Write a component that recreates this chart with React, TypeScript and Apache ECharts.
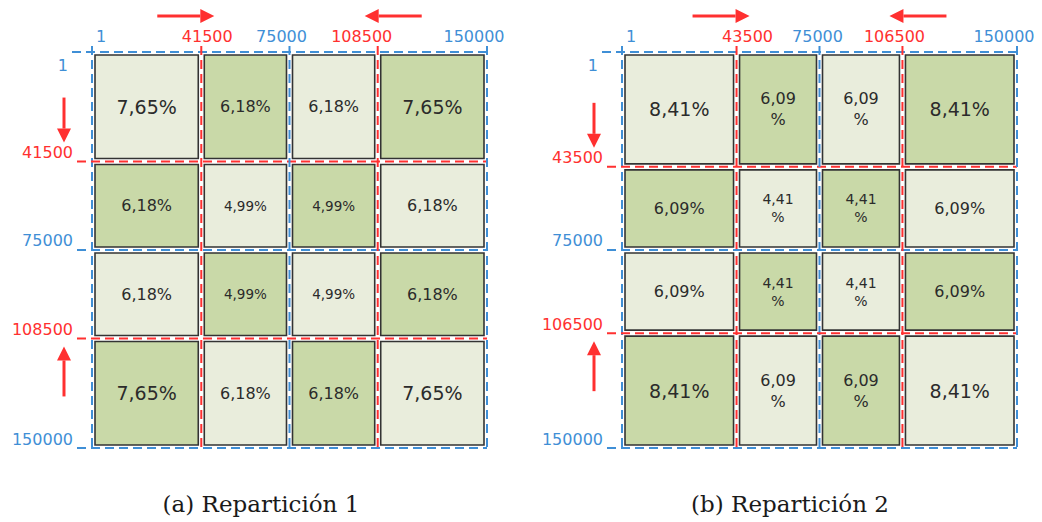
import React, { useEffect, useRef } from "react";
import * as echarts from "echarts";

// ---------- data ----------
const boundsA = [1, 41500, 75000, 108500, 150000];
const boundsB = [1, 43500, 75000, 106500, 150000];

const cellsA = [
  ["7,65%", "6,18%", "6,18%", "7,65%"],
  ["6,18%", "4,99%", "4,99%", "6,18%"],
  ["6,18%", "4,99%", "4,99%", "6,18%"],
  ["7,65%", "6,18%", "6,18%", "7,65%"],
];
const cellsB = [
  ["8,41%", "6,09\n%", "6,09\n%", "8,41%"],
  ["6,09%", "4,41\n%", "4,41\n%", "6,09%"],
  ["6,09%", "4,41\n%", "4,41\n%", "6,09%"],
  ["8,41%", "6,09\n%", "6,09\n%", "8,41%"],
];
const captions = ["(a) Repartición 1", "(b) Repartición 2"];

// ---------- style ----------
const BLUE = "#3f8fd6";
const RED = "#ff3030";
const LIGHT = "#e9eddc";
const GREEN = "#c9d9a8";
const BORDER = "#333333";
const TEXT = "#2b2b2b";
const SANS = "DejaVu Sans, Verdana, sans-serif";
const panelStyle = [
  { fonts: [19, 16, 13.5], topDx: [9, 6, -8, -16, -13], gridLeft: 92, caption: 261 },
  { fonts: [19, 16, 14], topDx: [9, 11, -2, -8, -13], gridLeft: 622, caption: 790 },
];
const panels = [
  { bounds: boundsA, cells: cellsA },
  { bounds: boundsB, cells: cellsB },
];

function cellData(bounds: number[]) {
  const out: number[][] = [];
  for (let i = 0; i < 4; i++)
    for (let j = 0; j < 4; j++)
      out.push([bounds[j], bounds[j + 1], bounds[i], bounds[i + 1], i, j]);
  return out;
}

function lineData(bounds: number[]) {
  const out: number[][] = [];
  bounds.forEach((b, k) => {
    out.push([b, 0, k]);
    out.push([b, 1, k]);
  });
  return out;
}

function cellRenderer(p: number) {
  return (_params: any, api: any) => {
    const x0 = api.value(0), x1 = api.value(1), y0 = api.value(2), y1 = api.value(3);
    const i = api.value(4), j = api.value(5);
    const a = api.coord([x0, y0]);
    const b = api.coord([x1, y1]);
    const inset = 3;
    const corner = (i === 0 || i === 3) && (j === 0 || j === 3);
    const inner = (i === 1 || i === 2) && (j === 1 || j === 2);
    const fs = panelStyle[p].fonts[corner ? 0 : inner ? 2 : 1];
    const cx = (a[0] + b[0]) / 2;
    const cy = (a[1] + b[1]) / 2;
    return {
      type: "group",
      children: [
        {
          type: "rect",
          shape: { x: a[0] + inset, y: a[1] + inset, width: b[0] - a[0] - 2 * inset, height: b[1] - a[1] - 2 * inset },
          style: { fill: (i + j) % 2 === 0 ? LIGHT : GREEN, stroke: BORDER, lineWidth: 1.6 },
        },
        {
          type: "text",
          x: cx,
          y: cy,
          style: {
            text: panels[p].cells[i][j],
            fill: TEXT,
            fontSize: fs,
            fontFamily: SANS,
            lineHeight: Math.round(fs * 1.3),
            align: "center",
            verticalAlign: "middle",
            textAlign: "center",
            textVerticalAlign: "middle",
          },
        },
      ],
    };
  };
}

function arrow(x1: number, y1: number, x2: number, y2: number) {
  const dx = x2 - x1, dy = y2 - y1;
  const len = Math.sqrt(dx * dx + dy * dy);
  const ux = dx / len, uy = dy / len;
  const hl = 14, hw = 7;
  const bx = x2 - ux * hl, by = y2 - uy * hl;
  return [
    { type: "line", shape: { x1, y1, x2: bx, y2: by }, style: { stroke: RED, lineWidth: 3 } },
    {
      type: "polygon",
      shape: { points: [[x2, y2], [bx - uy * hw, by + ux * hw], [bx + uy * hw, by - ux * hw]] },
      style: { fill: RED },
    },
  ];
}

function lineRenderer(p: number) {
  return (_params: any, api: any) => {
    const v = api.value(0), orient = api.value(1), k = api.value(2);
    const bounds = panels[p].bounds;
    const tl = api.coord([bounds[0], bounds[0]]);
    const br = api.coord([bounds[4], bounds[4]]);
    const color = k % 2 === 0 ? BLUE : RED;
    const dash = { stroke: color, lineWidth: 2, lineDash: [9, 5] };
    const font = { fontSize: 16, fontFamily: SANS, fill: color };
    const children: any[] = [];
    if (orient === 0) {
      const x = api.coord([v, bounds[0]])[0];
      children.push({ type: "line", shape: { x1: x, y1: tl[1] - 6, x2: x, y2: br[1] + 1 }, style: dash });
      children.push({
        type: "text",
        x: x + panelStyle[p].topDx[k],
        y: tl[1] - 8,
        style: { ...font, text: String(v), align: "center", verticalAlign: "bottom", textAlign: "center", textVerticalAlign: "bottom" },
      });
      if (k === 1) children.push(...arrow(x - 44, tl[1] - 36, x + 13, tl[1] - 36));
      if (k === 3) children.push(...arrow(x + 44, tl[1] - 36, x - 13, tl[1] - 36));
    } else {
      const y = api.coord([bounds[0], v])[1];
      const start = k === 0 ? tl[0] - 20 : tl[0] - 15;
      children.push({ type: "line", shape: { x1: start, y1: y, x2: br[0], y2: y }, style: dash });
      children.push({
        type: "text",
        x: k === 0 ? tl[0] - 24 : tl[0] - 19,
        y: k === 0 ? y + 5 : y - 1,
        style: {
          ...font,
          text: String(v),
          align: "right",
          verticalAlign: k === 0 ? "top" : "bottom",
          textAlign: "right",
          textVerticalAlign: k === 0 ? "top" : "bottom",
        },
      });
      const ax = tl[0] - 28;
      if (k === 1) children.push(...arrow(ax, y - 64, ax, y - 19));
      if (k === 3) children.push(...arrow(ax, y + 58, ax, y + 8));
    }
    return { type: "group", children };
  };
}

export default function App() {
  const ref = useRef<HTMLDivElement>(null);
  useEffect(() => {
    if (!ref.current) return;
    const chart = echarts.init(ref.current, undefined, { renderer: "svg" });
    const grids = panelStyle.map((s) => ({ left: s.gridLeft, top: 52, width: 395, height: 396 }));
    const xAxes = panels.map((pn, g) => ({
      type: "value", gridIndex: g, min: pn.bounds[0], max: pn.bounds[4], show: false,
    }));
    const yAxes = panels.map((pn, g) => ({
      type: "value", gridIndex: g, min: pn.bounds[0], max: pn.bounds[4], inverse: true, show: false,
    }));
    const series: any[] = [];
    panels.forEach((pn, g) => {
      series.push({
        type: "custom",
        xAxisIndex: g,
        yAxisIndex: g,
        renderItem: cellRenderer(g),
        encode: { x: [0, 1], y: [2, 3] },
        data: cellData(pn.bounds),
        z: 2,
        silent: true,
      });
      series.push({
        type: "custom",
        xAxisIndex: g,
        yAxisIndex: g,
        renderItem: lineRenderer(g),
        encode: { x: 0, y: 0 },
        data: lineData(pn.bounds),
        z: 3,
        clip: false,
        silent: true,
      });
    });
    chart.setOption({
      animation: false,
      backgroundColor: "#ffffff",
      grid: grids,
      xAxis: xAxes,
      yAxis: yAxes,
      series,
      graphic: captions.map((c, g) => ({
        type: "text",
        x: panelStyle[g].caption,
        y: 504,
        style: {
          text: c,
          fontSize: 23,
          fontFamily: "DejaVu Serif, Liberation Serif, serif",
          fill: "#1a1a1a",
          textAlign: "center",
          textVerticalAlign: "middle",
        },
      })),
    });
    return () => chart.dispose();
  }, []);
  return <div ref={ref} style={{ position: "fixed", left: 0, top: 0, width: 1042, height: 522 }} />;
}
